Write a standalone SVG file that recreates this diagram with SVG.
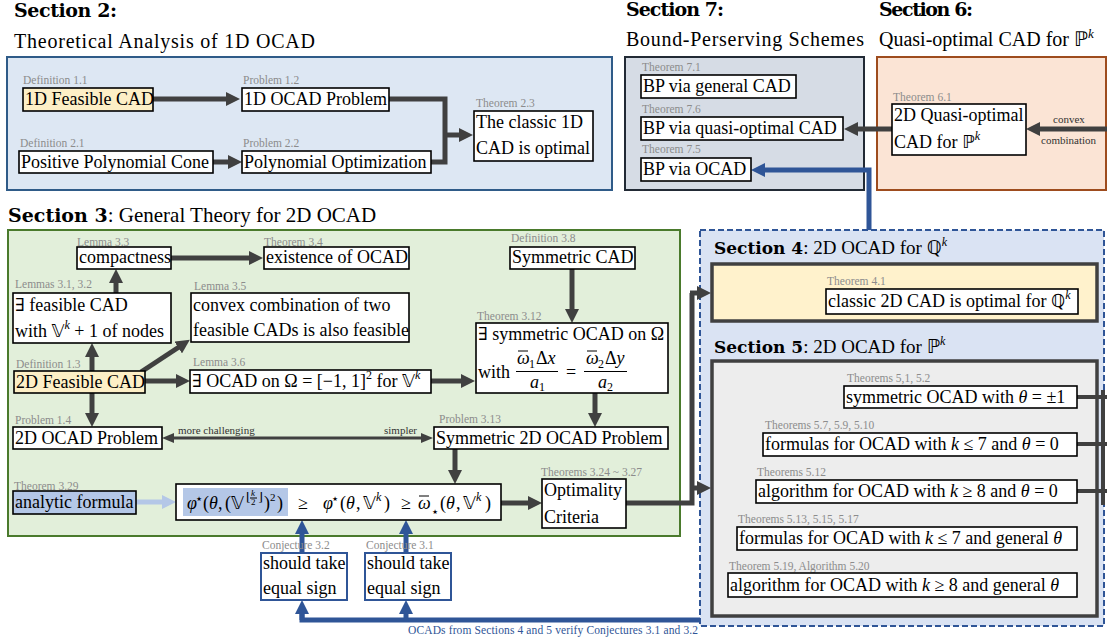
<svg xmlns="http://www.w3.org/2000/svg" width="1107" height="642" viewBox="0 0 1107 642">
<style>
  .t{font-family:"Liberation Serif","DejaVu Serif",serif;font-size:18px;fill:#000}
  .m{font-family:"DejaVu Sans","Liberation Serif",serif}
  .i{font-style:italic}
  .s12{font-size:12px}
  .s11{font-size:11px}
  .s9{font-size:9px}
  .star{font-family:"DejaVu Sans",sans-serif;font-size:13px}
  .lb{font-family:"Liberation Serif","DejaVu Serif",serif;font-size:11.5px;fill:#8c8c8c}
  .note{font-family:"Liberation Serif","DejaVu Serif",serif;font-size:11px;fill:#333}
  .h{font-family:"DejaVu Serif","Liberation Serif",serif;font-weight:bold;fill:#000}
  .hr{font-family:"Liberation Serif","DejaVu Serif",serif;fill:#000}
  .nb{fill:#fff;stroke:#000;stroke-width:1.6}
  .yel{fill:#fdefc6}
  .blu{fill:#b4c7e7}
  .cj{fill:#fff;stroke:#2f5597;stroke-width:2}
  .ar{fill:none;stroke:#404040;stroke-width:5;marker-end:url(#ah)}
  .ln{fill:none;stroke:#404040;stroke-width:5}
  .arb{fill:none;stroke:#2f5597;stroke-width:5;marker-end:url(#ahb)}
  .lnb{fill:none;stroke:#2f5597;stroke-width:5}
  .arl{fill:none;stroke:#b4c7e7;stroke-width:5;marker-end:url(#ahl)}
  .frac{stroke:#000;stroke-width:1}
</style>
<defs>
  <marker id="ah" viewBox="0 0 14 14" markerWidth="14" markerHeight="14" refX="1" refY="7" orient="auto" markerUnits="userSpaceOnUse"><path d="M0,0 L14,7 L0,14 z" fill="#404040"/></marker>
  <marker id="ahb" viewBox="0 0 14 14" markerWidth="14" markerHeight="14" refX="1" refY="7" orient="auto" markerUnits="userSpaceOnUse"><path d="M0,0 L14,7 L0,14 z" fill="#2f5597"/></marker>
  <marker id="ahl" viewBox="0 0 14 14" markerWidth="14" markerHeight="14" refX="1" refY="7" orient="auto" markerUnits="userSpaceOnUse"><path d="M0,0 L14,7 L0,14 z" fill="#b4c7e7"/></marker>
  <marker id="ahs" viewBox="0 0 12 10" markerWidth="12" markerHeight="10" refX="1" refY="5" orient="auto-start-reverse" markerUnits="userSpaceOnUse"><path d="M0,0 L12,5 L0,10 z" fill="#404040"/></marker>
</defs>
<rect width="1107" height="642" fill="#fff"/>

<!-- section containers -->
<g id="sec2">
  <text class="h" x="14" y="17" font-size="19" textLength="103">Section 2:</text>
  <text class="hr" x="14" y="48" font-size="20" textLength="301">Theoretical Analysis of 1D OCAD</text>
  <rect x="7" y="57" width="605" height="133" fill="#dde7f3" stroke="#2f5b88" stroke-width="2"/>
</g>
<g id="sec7">
  <text class="h" x="626" y="16" font-size="19" textLength="98">Section 7:</text>
  <text class="hr" x="626" y="46" font-size="20" textLength="238">Bound-Perserving Schemes</text>
  <rect x="625" y="57" width="239" height="133" fill="#d6dce5" stroke="#222a35" stroke-width="2"/>
</g>
<g id="sec6">
  <text class="h" x="879" y="16" font-size="19" textLength="94">Section 6:</text>
  <text class="hr" x="879" y="46" font-size="20">Quasi-optimal CAD for <tspan class="m">ℙ</tspan><tspan class="i" font-size="13" dy="-8">k</tspan></text>
  <rect x="877" y="57" width="229" height="133" fill="#fbe4d5" stroke="#9e4c1e" stroke-width="2"/>
</g>
<g id="sec3">
  <text x="8" y="222"><tspan class="h" font-size="19">Section 3</tspan><tspan class="hr" font-size="21">: General Theory for 2D OCAD</tspan></text>
  <rect x="8" y="230" width="672" height="306" fill="#e2efda" stroke="#4a7a2c" stroke-width="2"/>
</g>
<g id="sec45">
  <rect x="700" y="230" width="404" height="396" fill="#dae3f3" stroke="#2f5597" stroke-width="2" stroke-dasharray="6,3"/>
  <text x="714" y="254"><tspan class="h" font-size="17">Section 4</tspan><tspan class="hr" font-size="19">: 2D OCAD for </tspan><tspan class="m" font-size="19">ℚ</tspan><tspan class="hr i" font-size="12" dy="-8">k</tspan></text>
  <rect x="712" y="264" width="385" height="57" fill="#fff2cc" stroke="#404040" stroke-width="3.5"/>
  <text x="714" y="353"><tspan class="h" font-size="17">Section 5</tspan><tspan class="hr" font-size="19">: 2D OCAD for </tspan><tspan class="m" font-size="19">ℙ</tspan><tspan class="hr i" font-size="12" dy="-8">k</tspan></text>
  <rect x="712" y="361" width="385" height="255" fill="#ededed" stroke="#404040" stroke-width="3.5"/>
</g>

<!-- connectors -->
<g id="connectors">
  <path class="ar" d="M153,99 H227"/>
  <path class="ar" d="M213,162 H229"/>
  <path class="ln" d="M389,99 H445 V162 H431"/>
  <path class="ar" d="M443,135 H460"/>
  <path class="ar" d="M892,129 H857"/>
  <path class="ar" d="M1107,129 H1039"/>
  <text class="note" x="1053" y="123" fill="#404040">convex</text>
  <text class="note" x="1041" y="144" fill="#404040">combination</text>

  <path class="ar" d="M171,258 H250"/>
  <path class="ar" d="M116,293 V282"/>
  <path class="ar" d="M92,371 V356"/>
  <path class="ar" d="M141,372 L179,347"/>
  <path class="ar" d="M145,381 H177"/>
  <path class="ar" d="M431,381 H462"/>
  <path class="ar" d="M572,269 V310"/>
  <path class="ar" d="M595,393 V414"/>
  <path class="ar" d="M92,393 V414"/>
  <path d="M173,438 H422" fill="none" stroke="#404040" stroke-width="3" marker-start="url(#ahs)" marker-end="url(#ahs)"/>
  <text class="note" x="178" y="434">more challenging</text>
  <text class="note" x="384" y="434">simpler</text>
  <path class="ar" d="M455,449 V471"/>
  <path class="arl" d="M136,502 H163"/>
  <path class="ar" d="M501,503 H529"/>
  <path class="ln" d="M626,503 H692 V293"/>
  <path class="ar" d="M690,293 H698"/>
  <path class="ar" d="M690,488 H698"/>

  <path d="M1077,397 H1107 M1077,444 H1107 M1077,491 H1107 M1103,390 V505" fill="none" stroke="#404040" stroke-width="4"/>

  <path class="arb" d="M869,230 V170 H764"/>
  <path class="arb" d="M302,553 V533"/>
  <path class="arb" d="M406,553 V533"/>
  <path class="lnb" d="M700,620 H302 V614"/>
  <path class="arb" d="M302,620 V613"/>
  <path class="arb" d="M406,622 V613"/>
  <text x="408" y="634" font-family="Liberation Serif,DejaVu Serif,serif" font-size="11.5" fill="#2f5597" textLength="290">OCADs from Sections 4 and 5 verify Conjectures 3.1 and 3.2</text>
</g>

<!-- section 2 nodes -->
<g id="def11">
  <text class="lb" x="23" y="84">Definition 1.1</text>
  <rect class="nb yel" x="23" y="88" width="130" height="23"/>
  <text class="t" x="25" y="105">1D Feasible CAD</text>
</g>
<g id="prob12">
  <text class="lb" x="243" y="84">Problem 1.2</text>
  <rect class="nb" x="242" y="88" width="147" height="23"/>
  <text class="t" x="244" y="105">1D OCAD Problem</text>
</g>
<g id="def21">
  <text class="lb" x="20" y="147">Definition 2.1</text>
  <rect class="nb" x="19" y="151" width="194" height="22"/>
  <text class="t" x="21" y="168">Positive Polynomial Cone</text>
</g>
<g id="prob22">
  <text class="lb" x="243" y="147">Problem 2.2</text>
  <rect class="nb" x="242" y="151" width="189" height="22"/>
  <text class="t" x="244" y="168">Polynomial Optimization</text>
</g>
<g id="thm23">
  <text class="lb" x="476" y="107">Theorem 2.3</text>
  <rect class="nb" x="474" y="111" width="119" height="50"/>
  <text class="t" x="476" y="128">The classic 1D</text>
  <text class="t" x="476" y="154">CAD is optimal</text>
</g>

<!-- section 7 nodes -->
<g id="thm71">
  <text class="lb" x="642" y="71">Theorem 7.1</text>
  <rect class="nb" x="641" y="75" width="155" height="23"/>
  <text class="t" x="643" y="92">BP via general CAD</text>
</g>
<g id="thm76">
  <text class="lb" x="642" y="113">Theorem 7.6</text>
  <rect class="nb" x="641" y="117" width="202" height="23"/>
  <text class="t" x="643" y="134">BP via quasi-optimal CAD</text>
</g>
<g id="thm75">
  <text class="lb" x="642" y="153">Theorem 7.5</text>
  <rect class="nb" x="641" y="158" width="110" height="23"/>
  <text class="t" x="643" y="175">BP via OCAD</text>
</g>

<!-- section 6 node -->
<g id="thm61">
  <text class="lb" x="893" y="101">Theorem 6.1</text>
  <rect class="nb" x="892" y="104" width="134" height="51"/>
  <text class="t" x="894" y="121">2D Quasi-optimal</text>
  <text class="t" x="894" y="148">CAD for <tspan class="m">ℙ</tspan><tspan class="i" font-size="12" dy="-8">k</tspan></text>
</g>

<!-- section 3 nodes -->
<g id="lem33">
  <text class="lb" x="77" y="246">Lemma 3.3</text>
  <rect class="nb" x="77" y="247" width="94" height="22"/>
  <text class="t" x="79" y="263">compactness</text>
</g>
<g id="thm34">
  <text class="lb" x="264" y="246">Theorem 3.4</text>
  <rect class="nb" x="264" y="247" width="145" height="22"/>
  <text class="t" x="266" y="263">existence of OCAD</text>
</g>
<g id="lem3132">
  <text class="lb" x="15" y="288">Lemmas 3.1, 3.2</text>
  <rect class="nb" x="13" y="293" width="158" height="50"/>
  <text class="t" x="15" y="311">∃ feasible CAD</text>
  <text class="t" x="15" y="337">with <tspan class="m">𝕍</tspan><tspan class="i" font-size="12" dy="-8">k</tspan><tspan dy="8"> + 1 of nodes</tspan></text>
</g>
<g id="lem35">
  <text class="lb" x="194" y="290">Lemma 3.5</text>
  <rect class="nb" x="191" y="293" width="218" height="49"/>
  <text class="t" x="193" y="311">convex combination of two</text>
  <text class="t" x="193" y="336">feasible CADs is also feasible</text>
</g>
<g id="def13">
  <text class="lb" x="16" y="368">Definition 1.3</text>
  <rect class="nb yel" x="14" y="371" width="131" height="22"/>
  <text class="t" x="16" y="388">2D Feasible CAD</text>
</g>
<g id="lem36">
  <text class="lb" x="193" y="366">Lemma 3.6</text>
  <rect class="nb" x="190" y="370" width="241" height="23"/>
  <text class="t" x="192" y="387">∃ OCAD on Ω = [−1, 1]<tspan font-size="12" dy="-8">2</tspan><tspan dy="8"> for </tspan><tspan class="m">𝕍</tspan><tspan class="i" font-size="12" dy="-8">k</tspan></text>
</g>
<g id="def38">
  <text class="lb" x="511" y="242">Definition 3.8</text>
  <rect class="nb" x="510" y="247" width="125" height="22"/>
  <text class="t" x="512" y="263">Symmetric CAD</text>
</g>
<g id="thm312">
  <text class="lb" x="477" y="320">Theorem 3.12</text>
  <rect class="nb" x="476" y="323" width="192" height="70"/>
  <text class="t" x="478" y="340">∃ symmetric OCAD on Ω</text>
  <text class="t" x="478" y="378">with</text>
  <text class="t i" x="517" y="364">ω</text>
  <line class="frac" x1="518" y1="351" x2="528" y2="351"/>
  <text class="t s12" x="529" y="368">1</text>
  <text class="t" x="536" y="364">Δ<tspan class="i">x</tspan></text>
  <line class="frac" x1="516" y1="371.5" x2="558" y2="371.5"/>
  <text class="t i" x="530" y="388">a</text>
  <text class="t s12" x="539" y="391">1</text>
  <text class="t" x="566" y="378">=</text>
  <text class="t i" x="586" y="364">ω</text>
  <line class="frac" x1="587" y1="351" x2="597" y2="351"/>
  <text class="t s12" x="598" y="368">2</text>
  <text class="t" x="605" y="364">Δ<tspan class="i">y</tspan></text>
  <line class="frac" x1="584" y1="371.5" x2="627" y2="371.5"/>
  <text class="t i" x="598" y="388">a</text>
  <text class="t s12" x="607" y="391">2</text>
</g>
<g id="prob14">
  <text class="lb" x="15" y="424">Problem 1.4</text>
  <rect class="nb" x="13" y="427" width="149" height="22"/>
  <text class="t" x="15" y="444">2D OCAD Problem</text>
</g>
<g id="prob313">
  <text class="lb" x="439" y="423">Problem 3.13</text>
  <rect class="nb" x="434" y="427" width="234" height="22"/>
  <text class="t" x="436" y="444">Symmetric 2D OCAD Problem</text>
</g>
<g id="thm329">
  <text class="lb" x="14" y="490">Theorem 3.29</text>
  <rect class="nb blu" x="13" y="491" width="123" height="23"/>
  <text class="t" x="15" y="508">analytic formula</text>
</g>
<g id="ineq">
  <rect class="nb" x="176" y="484" width="325" height="36"/>
  <rect x="183" y="488" width="105" height="28" fill="#b4c7e7"/>
  <text class="t i" x="187" y="509">φ</text>
  <text class="t star" x="195" y="503">⋆</text>
  <text class="t" x="203" y="509">(</text>
  <text class="t i" x="209" y="509">θ</text>
  <text class="t" x="218" y="509">,</text>
  <text class="t" x="225" y="509">(</text>
  <text class="t m" x="231" y="509">𝕍</text>
  <text class="t s12" x="246" y="501">⌊</text>
  <text class="t i s9" x="251" y="496">k</text>
  <line class="frac" x1="250" y1="498" x2="257" y2="498" stroke-width="0.7"/>
  <text class="t s9" x="251" y="505">2</text>
  <text class="t s12" x="258" y="501">⌋</text>
  <text class="t" x="264" y="509">)</text>
  <text class="t s11" x="270" y="501">2</text>
  <text class="t" x="277" y="509">)</text>
  <text class="t" x="298" y="509">≥</text>
  <text class="t i" x="323" y="509">φ</text>
  <text class="t star" x="331" y="503">⋆</text>
  <text class="t" x="340" y="509">(</text>
  <text class="t i" x="346" y="509">θ</text>
  <text class="t" x="356" y="509">,</text>
  <text class="t m" x="363" y="509">𝕍</text>
  <text class="t i s12" x="376" y="501">k</text>
  <text class="t" x="384" y="509">)</text>
  <text class="t" x="401" y="509">≥</text>
  <text class="t i" x="418" y="509">ω</text>
  <line class="frac" x1="419" y1="496" x2="429" y2="496"/>
  <text class="t star" x="431" y="516">⋆</text>
  <text class="t" x="440" y="509">(</text>
  <text class="t i" x="446" y="509">θ</text>
  <text class="t" x="456" y="509">,</text>
  <text class="t m" x="463" y="509">𝕍</text>
  <text class="t i s12" x="476" y="501">k</text>
  <text class="t" x="485" y="509">)</text>
</g>
<g id="thm324">
  <text class="lb" x="541" y="476">Theorems 3.24 ~ 3.27</text>
  <rect class="nb" x="542" y="479" width="84" height="49"/>
  <text class="t" x="544" y="496">Optimality</text>
  <text class="t" x="544" y="523">Criteria</text>
</g>
<g id="conj32">
  <text class="lb" x="262" y="549">Conjecture 3.2</text>
  <rect class="cj" x="261" y="553" width="86" height="47"/>
  <text class="t" x="263" y="569">should take</text>
  <text class="t" x="263" y="594">equal sign</text>
</g>
<g id="conj31">
  <text class="lb" x="366" y="549">Conjecture 3.1</text>
  <rect class="cj" x="365" y="553" width="86" height="47"/>
  <text class="t" x="367" y="569">should take</text>
  <text class="t" x="367" y="594">equal sign</text>
</g>

<!-- section 4 node -->
<g id="thm41">
  <text class="lb" x="827" y="285">Theorem 4.1</text>
  <rect class="nb" x="826" y="289" width="252" height="25"/>
  <text class="t" x="828" y="307">classic 2D CAD is optimal for <tspan class="m">ℚ</tspan><tspan class="i" font-size="12" dy="-8">k</tspan></text>
</g>

<!-- section 5 nodes -->
<g id="thm51">
  <text class="lb" x="847" y="382">Theorems 5,1, 5.2</text>
  <rect class="nb" x="844" y="386" width="233" height="22"/>
  <text class="t" x="846" y="403">symmetric OCAD with <tspan class="i">θ</tspan> = ±1</text>
</g>
<g id="thm57">
  <text class="lb" x="765" y="429">Theorems 5.7, 5.9, 5.10</text>
  <rect class="nb" x="763" y="433" width="314" height="23"/>
  <text class="t" x="765" y="450">formulas for OCAD with <tspan class="i">k</tspan> ≤ 7 and <tspan class="i">θ</tspan> = 0</text>
</g>
<g id="thm512">
  <text class="lb" x="757" y="476">Theorems 5.12</text>
  <rect class="nb" x="756" y="480" width="321" height="23"/>
  <text class="t" x="758" y="497">algorithm for OCAD with <tspan class="i">k</tspan> ≥ 8 and <tspan class="i">θ</tspan> = 0</text>
</g>
<g id="thm513">
  <text class="lb" x="738" y="523">Theorems 5.13, 5.15, 5.17</text>
  <rect class="nb" x="737" y="527" width="340" height="23"/>
  <text class="t" x="739" y="544">formulas for OCAD with <tspan class="i">k</tspan> ≤ 7 and general <tspan class="i">θ</tspan></text>
</g>
<g id="thm519">
  <text class="lb" x="729" y="570">Theorem 5.19, Algorithm 5.20</text>
  <rect class="nb" x="728" y="573" width="349" height="24"/>
  <text class="t" x="730" y="591">algorithm for OCAD with <tspan class="i">k</tspan> ≥ 8 and general <tspan class="i">θ</tspan></text>
</g>
</svg>
